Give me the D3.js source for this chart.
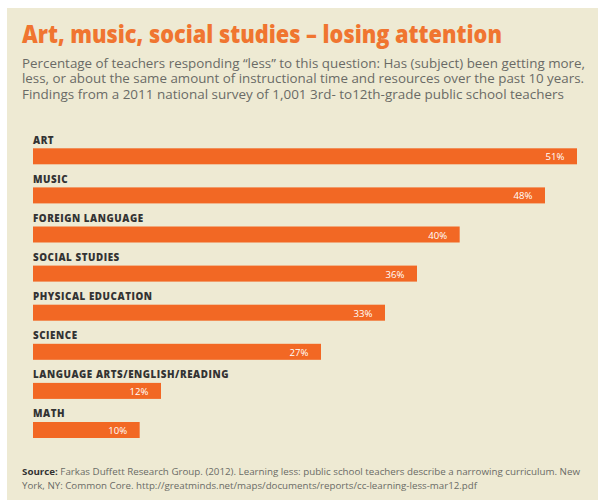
<!DOCTYPE html>
<html><head><meta charset="utf-8">
<script src="https://cdn.jsdelivr.net/npm/d3@7"></script>
<style>
html,body{margin:0;padding:0;background:#fff;}
svg{display:block;}
</style></head>
<body>
<svg id="chart" width="598" height="500"></svg>
<script>
const categories = ["ART","MUSIC","FOREIGN LANGUAGE","SOCIAL STUDIES","PHYSICAL EDUCATION","SCIENCE","LANGUAGE ARTS/ENGLISH/READING","MATH"];
const values = [51,48,40,36,33,27,12,10];
const title = "Art, music, social studies \u2013 losing attention";
const subtitleLines = [
  "Percentage of teachers responding \u201cless\u201d to this question: Has (subject) been getting more,",
  "less, or about the same amount of instructional time and resources over the past 10 years.",
  "Findings from a 2011 national survey of 1,001 3rd- to12th-grade public school teachers"
];
const sourceBold = "Source:";
const sourceLines = [
  " Farkas Duffett Research Group. (2012). Learning less: public school teachers describe a narrowing curriculum. New",
  "York, NY: Common Core. http://greatminds.net/maps/documents/reports/cc-learning-less-mar12.pdf"
];

const svg = d3.select("#chart");
const bg = "#eeead3", orange = "#f26824", titleOrange = "#f07530";

svg.append("rect").attr("x",7).attr("y",8).attr("width",591).attr("height",492).attr("fill",bg);

svg.append("text").attr("x",22).attr("y",43)
  .attr("font-family","'Open Sans', sans-serif").attr("font-weight",800).attr("font-size",24)
  .attr("fill",titleOrange).attr("textLength",480).attr("lengthAdjust","spacingAndGlyphs")
  .text(title);

const subLens = [563,562,542];
svg.selectAll("text.sub").data(subtitleLines).join("text").attr("class","sub")
  .attr("x",22).attr("y",(d,i)=>67.5+i*15.7)
  .attr("font-family","'Open Sans', sans-serif").attr("font-size",12.6)
  .attr("fill","#6a6a66")
  .attr("textLength",(d,i)=>subLens[i]).attr("lengthAdjust","spacingAndGlyphs")
  .text(d=>d);

const x = d3.scaleLinear().domain([0,51]).range([33,577]);
const y = d3.scaleBand().domain(categories).range([148.3,148.3+8*39.1]).padding(0);
const barH = 16;

const g = svg.append("g");
const rows = g.selectAll("g.row").data(categories.map((c,i)=>({c,v:values[i]}))).join("g").attr("class","row");

rows.append("rect")
  .attr("x",x(0)).attr("y",d=>y(d.c))
  .attr("width",d=>x(d.v)-x(0)).attr("height",barH)
  .attr("fill",orange);

rows.append("text")
  .attr("x",x(0)).attr("y",d=>y(d.c)-4.8)
  .attr("font-family","'Open Sans', sans-serif").attr("font-weight",800).attr("font-size",9.8)
  .attr("letter-spacing",0.55)
  .attr("fill","#333333")
  .text(d=>d.c);

rows.append("text")
  .attr("x",d=>x(d.v)-12.5).attr("y",d=>y(d.c)+12)
  .attr("text-anchor","end")
  .attr("font-family","'Open Sans', sans-serif").attr("font-weight",400).attr("font-size",9.6)
  .attr("fill","#ffffff")
  .text(d=>d.v+"%");

const src = svg.append("text").attr("x",22).attr("y",475)
  .attr("font-family","'Open Sans', sans-serif").attr("font-size",9.3).attr("fill","#6a6a66")
  .attr("textLength",558).attr("lengthAdjust","spacingAndGlyphs");
src.append("tspan").attr("font-weight",700).attr("fill","#333").text(sourceBold);
src.append("tspan").text(sourceLines[0]);
svg.append("text").attr("x",22).attr("y",489)
  .attr("font-family","'Open Sans', sans-serif").attr("font-size",9.3).attr("fill","#6a6a66")
  .attr("textLength",455).attr("lengthAdjust","spacingAndGlyphs")
  .text(sourceLines[1]);
</script>
</body></html>
